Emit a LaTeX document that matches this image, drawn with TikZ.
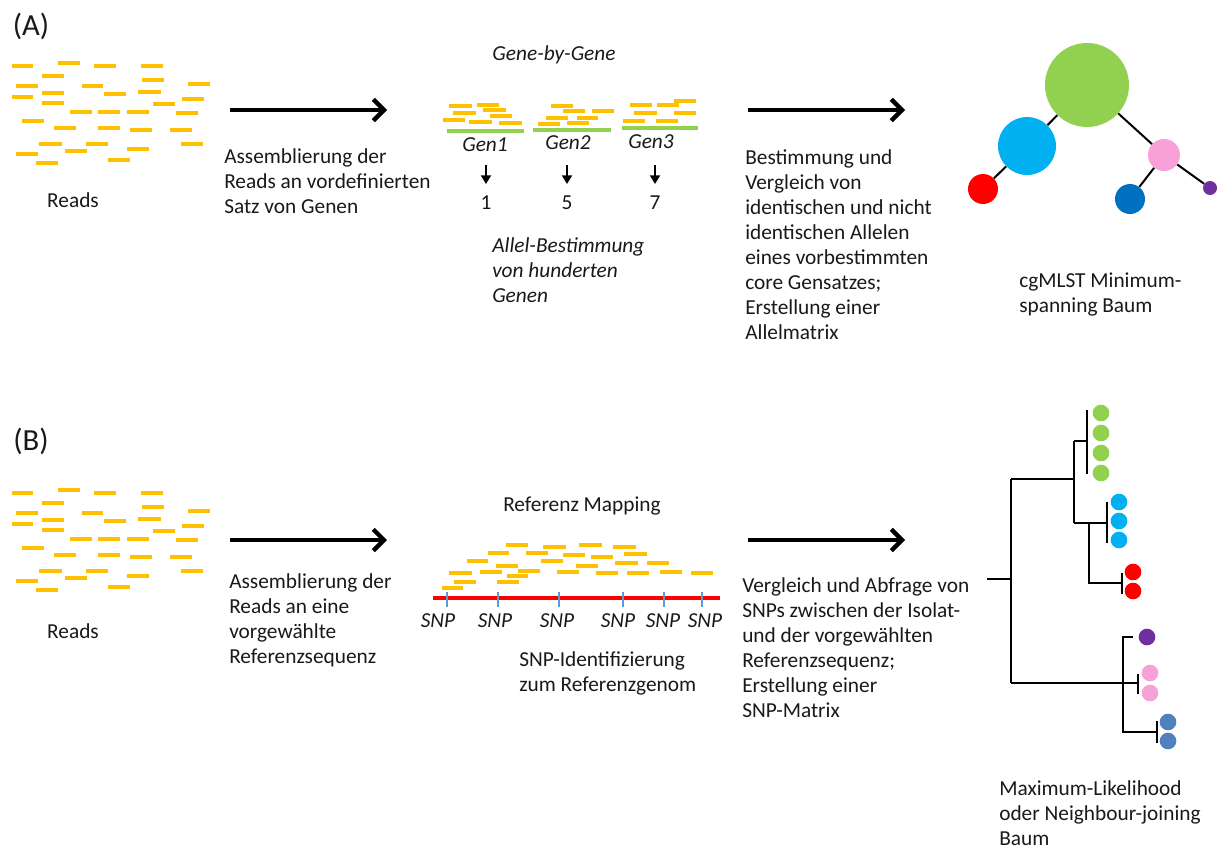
\documentclass[tikz,border=0pt]{standalone}
\usepackage{fontspec}
\setmainfont{Carlito}
\usetikzlibrary{arrows.meta}
\definecolor{readc}{HTML}{FFC000}
\definecolor{geneg}{HTML}{92D050}
\definecolor{cyanc}{HTML}{00B0F0}
\definecolor{redc}{HTML}{FF0000}
\definecolor{pinkc}{HTML}{F7A1D8}
\definecolor{darkbl}{HTML}{0070C0}
\definecolor{purpc}{HTML}{7030A0}
\definecolor{steelb}{HTML}{4F81BD}
\definecolor{snpb}{HTML}{5B9BD5}
\begin{document}
\begin{tikzpicture}[x=0.75pt,y=-0.75pt,
  txt/.style={font=\fontsize{16}{18.75}\selectfont, align=left, anchor=west, inner sep=0pt, text=black!90},
  itxt/.style={font=\fontsize{16}{18.75}\selectfont\itshape, inner sep=0pt, text=black!90},
  lbl/.style={font=\fontsize{23}{27}\selectfont, inner sep=0pt, text=black!90},
  read/.style={draw=readc, line width=2.6pt},
  gene/.style={draw=geneg, line width=2.6pt},
  bigarrow/.style={draw=black, line width=3.2pt, -{Straight Barb[length=8pt,width=16pt,line width=3.2pt]}},
  smallarrow/.style={draw=black, line width=1.4pt, -{Triangle[length=6.5pt,width=7.5pt]}},
  mst/.style={circle, inner sep=0pt, draw=none},
  mstedge/.style={draw=black, line width=1.5pt},
  treeline/.style={draw=black, line width=2.2pt},
  dot/.style={circle, inner sep=0pt, minimum size=12.5pt, draw=none}]
\useasboundingbox (0,0) rectangle (1221,849);

% labels
\node[lbl] (labA) at (31,26) {(A)};
\node[lbl] (labB) at (31,441) {(B)};

% reads A and B
\foreach \s in {0,427}{
\begin{scope}[shift={(0,\s)}]
\foreach \a/\b/\y in {12/33/66, 58/80/63, 94/116/66, 141/163/66, 42/64/76, 142/164/80, 16/38/86, 82/103/86, 188/210/84, 42/64/93, 104/126/94, 138/161/92, 12/33/97, 182/204/99, 42/64/103, 153/175/104, 70/92/112, 98/120/112, 127/149/112, 176/198/113, 22/44/121, 54/76/128, 98/120/128, 130/152/130, 170/192/130, 39/62/144, 86/108/144, 181/203/144, 65/87/151, 127/149/149, 16/38/154, 108/130/160, 36/58/163}
  \draw[read] (\a,\y) -- (\b,\y);
\end{scope}}
\node[txt, anchor=center] (readsA) at (73,200) {Reads};
\node[txt, anchor=center] (readsB) at (73,631) {Reads};

% big arrows
\coordinate (a1s) at (230,110); \coordinate (a1e) at (387,110);
\coordinate (a2s) at (748,110); \coordinate (a2e) at (905,110);
\coordinate (b1s) at (230,540); \coordinate (b1e) at (387,540);
\coordinate (b2s) at (748,540); \coordinate (b2e) at (905,540);
\draw[bigarrow] (a1s) -- (a1e);
\draw[bigarrow] (a2s) -- (a2e);
\draw[bigarrow] (b1s) -- (b1e);
\draw[bigarrow] (b2s) -- (b2e);

% text A
\node[txt] (tA1) at (224,181) {Assemblierung der\\Reads an vordefinierten\\Satz von Genen};
\node[itxt] (gbg) at (554,55) {Gene-by-Gene};

% genes
\draw[gene] (447,131) -- (524,131);
\draw[gene] (533,130) -- (611,130);
\draw[gene] (622,128) -- (698,128);
\foreach \a/\b/\y in {449/472/106, 477/499/105, 453/476/113, 483/506/110, 443/465/120, 490/512/116, 469/492/122, 499/522/123,
  551/573/106, 563/585/111, 592/614/111, 546/568/118, 577/598/118, 538/560/124, 567/589/123,
  630/652/105, 657/679/105, 674/696/101, 634/657/113, 674/696/113, 623/645/121, 656/678/121}
  \draw[read] (\a,\y) -- (\b,\y);
\node[itxt] (gen1) at (485,145) {Gen1};
\node[itxt] (gen2) at (568,143) {Gen2};
\node[itxt] (gen3) at (651,142) {Gen3};
\node[txt, anchor=center] (n1) at (486,203) {1};
\node[txt, anchor=center] (n5) at (567,203) {5};
\node[txt, anchor=center] (n7) at (655,203) {7};
\draw[smallarrow] (486,165) -- (486,184);
\draw[smallarrow] (567,165) -- (567,184);
\draw[smallarrow] (655,165) -- (655,184);
\node[itxt, align=left, anchor=west] (allel) at (492,270) {Allel-Bestimmung\\von hunderten\\Genen};

\node[txt] (tA2) at (745,244.5) {Bestimmung und\\Vergleich von\\identischen und nicht\\identischen Allelen\\eines vorbestimmten\\core Gensatzes;\\Erstellung einer\\Allelmatrix};

% MST tree
\node[mst, fill=geneg, minimum size=63pt] (mg) at (1087,85) {};
\node[mst, fill=cyanc, minimum size=43.5pt] (mc) at (1027,146) {};
\node[mst, fill=redc, minimum size=22.5pt] (mr) at (983,189) {};
\node[mst, fill=pinkc, minimum size=24pt] (mp) at (1164,155) {};
\node[mst, fill=darkbl, minimum size=22.5pt] (mb) at (1130,199) {};
\node[mst, fill=purpc, minimum size=10.5pt] (mv) at (1210,188) {};
\draw[mstedge] (mg) -- (mc);
\draw[mstedge] (mc) -- (mr);
\draw[mstedge] (mg) -- (mp);
\draw[mstedge] (mp) -- (mb);
\draw[mstedge] (mp) -- (mv);
\node[txt] (cgm) at (1019,294) {cgMLST Minimum-\\spanning Baum};

% (B) text
\node[txt] (tB1) at (229,620) {Assemblierung der\\Reads an eine\\vorgewählte\\Referenzsequenz};
\node[txt, anchor=center] (refmap) at (582,506) {Referenz Mapping};

\foreach \a/\b/\y in {506/528/545, 543/566/547, 579/602/545, 613/636/547, 488/509/553, 526/548/553, 563/585/555, 591/613/557, 624/647/554, 467/488/561, 541/563/561, 496/518/566, 576/598/566, 615/638/563, 647/669/563, 449/472/573, 480/502/572, 518/540/571, 507/528/576, 557/579/572, 596/618/573, 627/649/573, 660/682/572, 691/713/573, 454/476/582, 497/519/582, 442/463/588}
  \draw[read] (\a,\y) -- (\b,\y);
\coordinate (refl) at (433,598); \coordinate (refr) at (720,598);
\draw[draw=redc, line width=2.6pt] (refl) -- (refr);
\foreach \x in {447,498,559,623,664,702}
  \draw[draw=snpb, line width=2pt] (\x,592) -- (\x,607);
\foreach \x/\n in {438/s1,495/s2,557/s3,618/s4,663/s5,705/s6}
  \node[itxt] (\n) at (\x,621) {SNP};
\node[txt] (snpid) at (519,673.5) {SNP-Identifizierung\\zum Referenzgenom};

\node[txt] (tB2) at (742,647.5) {Vergleich und Abfrage von\\SNPs zwischen der Isolat-\\und der vorgewählten\\Referenzsequenz;\\Erstellung einer\\SNP-Matrix};

% phylogenetic tree
\coordinate (r0) at (987,579); \coordinate (r1) at (1011,579);
\coordinate (rt) at (1011,479); \coordinate (rb) at (1011,683);
\coordinate (u1) at (1074,479); \coordinate (ut) at (1074,441); \coordinate (ub) at (1074,523);
\coordinate (gh) at (1087,441); \coordinate (gt) at (1087,410); \coordinate (gb) at (1087,474);
\coordinate (ch) at (1107,523); \coordinate (ct) at (1107,502); \coordinate (cb) at (1107,543);
\coordinate (sr) at (1089,523); \coordinate (srb) at (1089,583);
\coordinate (rh) at (1122,583); \coordinate (rrt) at (1122,573); \coordinate (rrb) at (1122,594);
\coordinate (l1) at (1123,683); \coordinate (lt) at (1123,637); \coordinate (lb) at (1123,732);
\coordinate (vh) at (1133,637);
\coordinate (ph) at (1138,683); \coordinate (pt) at (1138,674); \coordinate (pb) at (1138,694);
\coordinate (bh) at (1157,732); \coordinate (bt) at (1157,721); \coordinate (bb) at (1157,743);
\draw[treeline] (r0) -- (r1);
\draw[treeline] (rt) -- (rb);
\draw[treeline] (rt) -- (u1);
\draw[treeline] (ut) -- (ub);
\draw[treeline] (ut) -- (gh);
\draw[treeline] (gt) -- (gb);
\draw[treeline] (ub) -- (ch);
\draw[treeline] (ct) -- (cb);
\draw[treeline] (sr) -- (srb) -- (rh);
\draw[treeline] (rrt) -- (rrb);
\draw[treeline] (rb) -- (l1);
\draw[treeline] (vh) -- (lt) -- (lb) -- (bh);
\draw[treeline] (l1) -- (ph);
\draw[treeline] (pt) -- (pb);
\draw[treeline] (bt) -- (bb);
\foreach \y/\n in {413/g1,433/g2,453/g3,473/g4}
  \node[dot, fill=geneg] (\n) at (1101,\y) {};
\foreach \y/\n in {502/c1,521/c2,540/c3}
  \node[dot, fill=cyanc] (\n) at (1119,\y) {};
\foreach \y/\n in {572/rd1,591/rd2}
  \node[dot, fill=redc] (\n) at (1133,\y) {};
\node[dot, fill=purpc] (pv1) at (1147,637) {};
\foreach \y/\n in {673/pk1,693/pk2}
  \node[dot, fill=pinkc] (\n) at (1150,\y) {};
\foreach \y/\n in {722/bl1,741/bl2}
  \node[dot, fill=steelb] (\n) at (1168,\y) {};

\node[txt] (ml) at (999,813) {Maximum-Likelihood\\oder Neighbour-joining\\Baum};
\end{tikzpicture}
\end{document}
